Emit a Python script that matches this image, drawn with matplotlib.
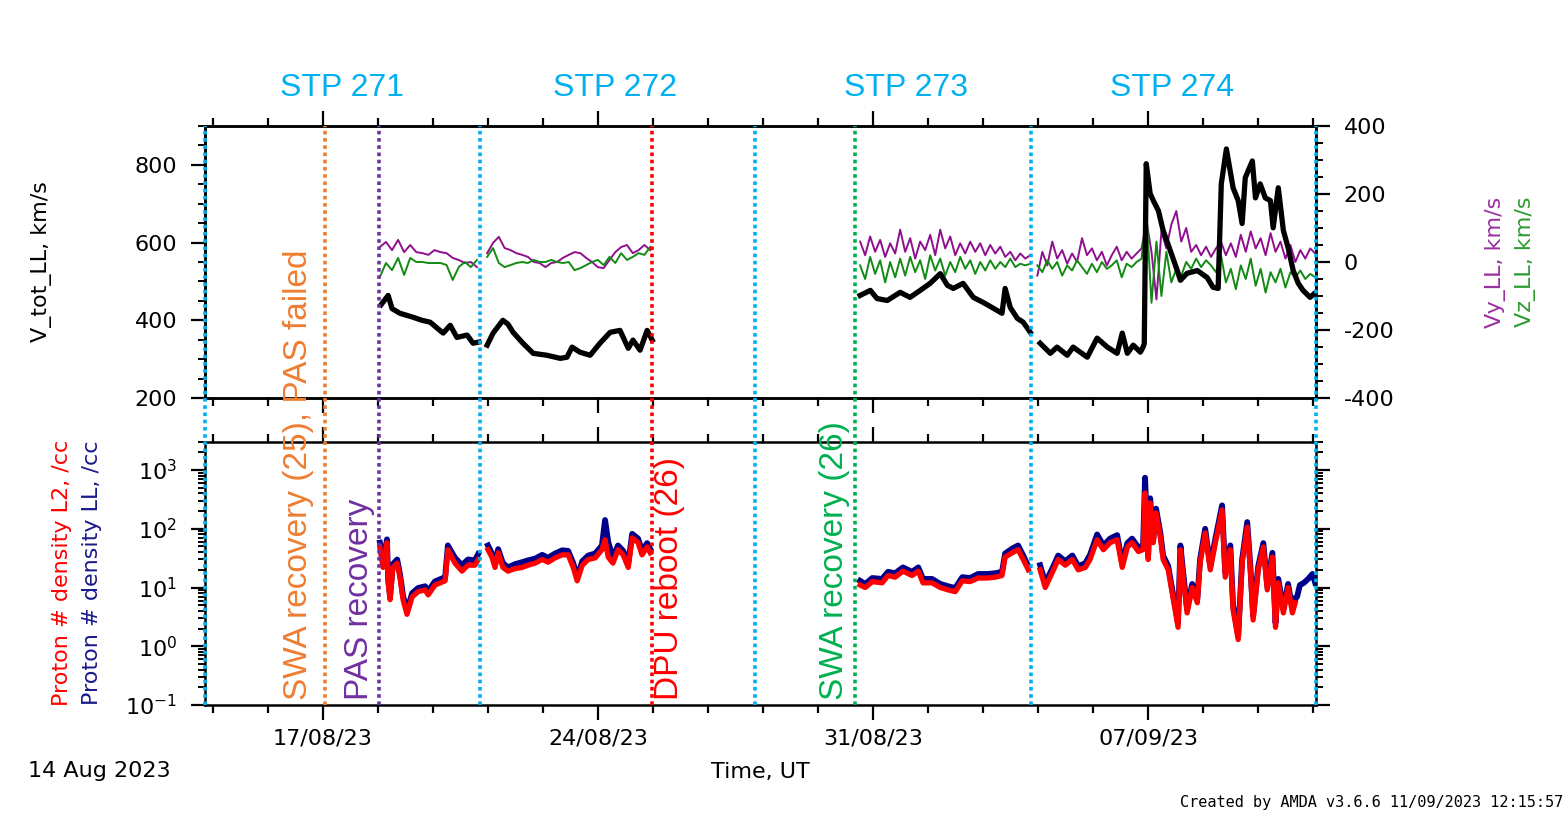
import numpy as np
import matplotlib
matplotlib.use('Agg')
import matplotlib.pyplot as plt
import matplotlib.transforms as mtransforms
from matplotlib.ticker import MultipleLocator, LogLocator, NullFormatter, FixedLocator

# time axis in days since 14 Aug 2023 00:00 UT
x_max = 28.27
date_ticks = [3, 10, 17, 24]
date_labels = ['17/08/23', '24/08/23', '31/08/23', '07/09/23']

# STP periods
stp_bounds = [0.0, 7.0, 14.0, 21.02, 28.27]
stp_names = ['STP 271', 'STP 272', 'STP 273', 'STP 274']
stp_label_x = [3.49, 10.44, 17.84, 24.61]

# events
event_x = [3.05, 4.43, 11.38, 16.54]
event_text = ['SWA recovery (25), PAS failed', 'PAS recovery', 'DPU reboot (26)', 'SWA recovery (26)']
event_colors = ['#ED7D31', '#7030A0', '#FF0000', '#00B050']
event_text_x = [2.37, 3.94, 11.83, 16.03]

# V_tot_LL (km/s), one list per data segment
vtot_t = [
    [4.48, 4.66, 4.76, 4.96, 5.29, 5.52, 5.73, 6.06, 6.24, 6.41, 6.67, 6.82, 6.97],
    [7.18, 7.33, 7.58, 7.71, 7.84, 8.09, 8.35, 8.70, 9.04, 9.21, 9.34, 9.54, 9.80,
     10.05, 10.31, 10.56, 10.77, 10.89, 11.07, 11.25, 11.38],
    [16.67, 16.93, 17.10, 17.36, 17.69, 17.94, 18.20, 18.45, 18.71, 18.89, 19.04, 19.29,
     19.55, 19.80, 20.06, 20.28, 20.36, 20.49, 20.67, 20.82, 21.00],
    [21.25, 21.51, 21.68, 21.94, 22.09, 22.45, 22.70, 22.96, 23.21, 23.34, 23.47, 23.62,
     23.80, 23.87, 23.90, 23.95, 24.05, 24.13, 24.26, 24.38, 24.56, 24.74, 24.82, 24.99,
     25.25, 25.50, 25.65, 25.78, 25.86, 25.99, 26.16, 26.29, 26.39, 26.47, 26.65, 26.73,
     26.85, 26.98, 27.11, 27.18, 27.31, 27.44, 27.56, 27.69, 27.82, 27.94, 28.12, 28.23],
]
vtot = [
    [440, 464, 430, 418, 408, 400, 395, 367, 387, 356, 362, 341, 344],
    [336, 367, 400, 390, 369, 341, 315, 310, 302, 305, 331, 318, 310,
     341, 369, 374, 328, 349, 323, 374, 349],
    [464, 477, 456, 451, 472, 459, 477, 495, 520, 490, 482, 495,
     459, 446, 431, 418, 482, 433, 405, 395, 369],
    [341, 315, 331, 310, 331, 305, 354, 331, 315, 367, 315, 336,
     318, 331, 340, 803, 726, 708, 682, 631, 580, 528, 503, 521,
     528, 510, 485, 482, 751, 841, 741, 708, 649, 767, 810, 715,
     751, 715, 708, 638, 741, 631, 587, 528, 495, 477, 459, 469],
]

# Vy_LL, Vz_LL (km/s): segment start/end times and regular readings
vyz_span = [(4.45, 6.92), (7.18, 11.33), (16.67, 21.00), (21.18, 28.25)]
vy = [
    [44, 59, 35, 65, 29, 50, 29, 26, 21, 35, 29, 26, 12, 6, -3, 0, -15],
    [26, 56, 74, 41, 35, 26, 21, 15, 0, -3, -15, -3, 0, 12, 21, 29, 26, 12, 0,
     -15, -18, 6, 29, 44, 50, 26, 35, 50, 35],
    [60, 20, 75, 30, 65, 15, 55, 25, 95, 30, 70, 10, 60, 35, 80, 20, 95, 40,
     75, 20, 55, 25, 60, 30, 55, 20, 50, 25, 45, 15, 30, 5, 25, 10, 20],
    [-40, 30, -10, 60, 10, 35, -5, 25, 0, 70, 20, 40, 5, 30, -10, 20, 45, 5, 30,
     10, 25, 40, 120, 30, -110, 90, 40, 110, 150, 60, 100, 30, 50, 20, 45, 15,
     40, 60, 20, 55, 15, 80, 30, 90, 40, 70, 20, 85, 30, 60, 10, 50, 0, 35, 10,
     40, 25],
]
vz = [
    [-44, -3, -24, 12, -38, 12, 0, 0, -3, -3, -3, -9, -53, -15, 0, -15, 6],
    [15, 41, -3, -15, -9, -3, 0, -3, 6, 0, 0, 6, 0, -3, 0, -24, -18, -9, 0,
     6, -9, 15, -3, 26, 6, 15, 26, 21, 44],
    [-10, -50, 15, -35, 5, -60, 0, -45, 10, -40, 15, -30, 5, -50, 20, -25, 10,
     -40, 0, -30, 15, -20, 5, -35, 0, -25, 5, -20, 0, -15, 10, -15, -5, -10, -5],
    [-10, -30, 5, -20, 0, -40, -10, -25, 5, -15, -35, -5, -30, 0, -20, -10, 5,
     -45, -5, -15, 0, 10, 140, -120, 60, -100, 30, -60, -20, -40, 0, -20, 10,
     -15, 5, -10, -30, 20, -60, -20, -80, -10, -50, 10, -70, -20, -90, -30, -60,
     -20, -75, -30, -45, -25, -50, -35, -45],
]

# proton density (/cc): L2 and LL on the same sample times
dens_t = [
    [4.45, 4.53, 4.63, 4.66, 4.71, 4.78, 4.89, 4.96, 5.04, 5.14, 5.27, 5.42, 5.60,
     5.68, 5.85, 6.11, 6.18, 6.36, 6.54, 6.69, 6.87, 6.95],
    [7.20, 7.30, 7.38, 7.46, 7.58, 7.71, 7.89, 8.07, 8.22, 8.40, 8.58, 8.73, 8.91,
     9.09, 9.24, 9.37, 9.47, 9.60, 9.75, 9.93, 10.10, 10.18, 10.26, 10.38, 10.51,
     10.64, 10.77, 10.87, 11.02, 11.12, 11.25, 11.33],
    [16.67, 16.80, 16.98, 17.23, 17.38, 17.56, 17.76, 17.99, 18.15, 18.27, 18.50,
     18.71, 18.91, 19.09, 19.27, 19.47, 19.67, 19.90, 20.11, 20.28, 20.36, 20.54,
     20.69, 20.82, 20.95],
    [21.25, 21.38, 21.56, 21.71, 21.89, 22.07, 22.22, 22.40, 22.52, 22.70, 22.86,
     23.03, 23.21, 23.34, 23.47, 23.59, 23.75, 23.87, 23.92, 24.00, 24.05, 24.13,
     24.20, 24.31, 24.38, 24.51, 24.64, 24.76, 24.82, 24.89, 24.99, 25.12, 25.25,
     25.32, 25.45, 25.58, 25.71, 25.88, 25.96, 26.09, 26.16, 26.29, 26.39, 26.52,
     26.60, 26.67, 26.80, 26.93, 27.03, 27.16, 27.24, 27.31, 27.44, 27.56, 27.67,
     27.74],
]
dens_l2 = [
    [49, 22, 58, 12, 6.2, 22, 26, 15, 6.2, 3.5, 6.9, 8.5, 9.1, 7.5, 11, 13, 44,
     26, 19, 24, 24, 30],
    [44, 33, 22, 39, 22, 19, 21, 22, 24, 26, 30, 27, 32, 36, 36, 22, 13, 24, 30,
     32, 44, 65, 33, 26, 44, 36, 22, 70, 58, 36, 49, 39],
    [11, 10, 12.6, 12, 16, 15, 19, 16, 19, 12, 12, 10, 9.1, 8.5, 13, 12.6, 14.5,
     14.5, 15, 16, 33, 39, 44, 30, 20],
    [20, 10, 18, 30, 24, 30, 20, 22, 30, 65, 44, 58, 65, 22, 49, 58, 41, 44,
     407, 30, 275, 58, 186, 72, 30, 20, 6.2, 2.1, 44, 15, 3.7, 10, 5.5, 26, 85,
     20, 58, 209, 15, 44, 4.2, 1.3, 26, 107, 20, 2.8, 20, 49, 9.1, 33, 2.1, 12,
     3.7, 10, 3.7, 5.5],
]
dens_ll = [
    [58, 26, 66, 14, 7.2, 25, 30, 17, 7.2, 4.0, 8, 9.8, 10.5, 8.7, 12.7, 15, 52,
     32, 24, 30, 29, 37],
    [52, 38, 26, 45, 26, 22, 25, 27, 29, 31, 36, 32, 38, 43, 42, 26, 15, 28, 35,
     38, 52, 141, 60, 32, 52, 42, 26, 82, 68, 42, 57, 45],
    [13, 11.5, 14.5, 14, 18.5, 17.5, 22, 18.5, 22, 14, 14, 11.5, 10.5, 9.8, 15,
     14.5, 17, 17, 17.5, 18.5, 38, 46, 52, 35, 23],
    [24, 12, 21, 35, 28, 35, 23, 26, 36, 80, 52, 68, 78, 26, 57, 68, 48, 52,
     740, 36, 330, 68, 220, 84, 35, 23, 7.2, 2.5, 52, 18, 4.3, 11.5, 6.4, 30, 100,
     23, 68, 250, 18, 52, 5, 1.5, 30, 130, 23, 3.3, 23, 57, 10.5, 39, 2.5, 14,
     4.3, 11.5, 4.3, 6.4],
]
# LL continues after L2 stops
dens_ll_tail_t = [27.74, 27.79, 27.86, 27.96, 28.07, 28.18, 28.25]
dens_ll_tail = [6.4, 7, 11, 12, 14, 17, 12]

W, H = 1566, 816
plt.rcParams['font.family'] = 'DejaVu Sans'
plt.rcParams['axes.unicode_minus'] = False
fig = plt.figure(figsize=(W / 100, H / 100), dpi=100)


def box(x0, y0, x1, y1):
    return [x0 / W, 1 - y1 / H, (x1 - x0) / W, (y1 - y0) / H]


ax1 = fig.add_axes(box(205, 126, 1316, 398))
ax2 = ax1.twinx()
ax3 = fig.add_axes(box(205, 442, 1316, 705), sharex=ax1)

# top panel: V_tot on left, Vy/Vz on right
for t, v in zip(vtot_t, vtot):
    ax1.plot(t, v, color='black', lw=3.8, solid_joinstyle='round')
for (t0, t1), a, b in zip(vyz_span, vy, vz):
    ax2.plot(np.linspace(t0, t1, len(a)), a, color='#8E108E', lw=1.4)
    ax2.plot(np.linspace(t0, t1, len(b)), b, color='#138A13', lw=1.4)
ax1.set_zorder(ax2.get_zorder() + 1)
ax1.patch.set_visible(False)

ax1.set_ylim(200, 900)
ax2.set_ylim(-400, 400)
ax1.set_xlim(0, x_max)
ax1.yaxis.set_major_locator(FixedLocator([200, 400, 600, 800]))
ax1.yaxis.set_minor_locator(MultipleLocator(50))
ax2.yaxis.set_major_locator(MultipleLocator(200))
ax2.yaxis.set_minor_locator(MultipleLocator(50))

# bottom panel: densities
for t, a in zip(dens_t, dens_ll):
    ax3.plot(t, a, color='#00008B', lw=4.2, solid_joinstyle='round')
ax3.plot(dens_ll_tail_t, dens_ll_tail, color='#00008B', lw=4.2)
for t, b in zip(dens_t, dens_l2):
    ax3.plot(t, b, color='#FF0000', lw=3.8, solid_joinstyle='round')
ax3.set_yscale('log')
ax3.set_ylim(0.1, 3000)
ax3.yaxis.set_major_locator(LogLocator(base=10, numticks=20))
ax3.yaxis.set_minor_locator(LogLocator(base=10, subs=np.arange(2, 10), numticks=20))
ax3.yaxis.set_minor_formatter(NullFormatter())

# time ticks
minor_days = np.arange(0.2, x_max, 1.4)
for ax in (ax1, ax3):
    ax.xaxis.set_major_locator(FixedLocator(date_ticks))
    ax.xaxis.set_minor_locator(FixedLocator(minor_days))
    ax.tick_params(axis='x', which='both', top=True, bottom=True, direction='out')
    ax.tick_params(axis='x', which='major', length=11, width=1.6)
    ax.tick_params(axis='x', which='minor', length=6, width=1.6)
ax1.tick_params(axis='x', labelbottom=False)
ax3.set_xticklabels(date_labels)
ax3.tick_params(axis='x', which='major', labelsize=16, pad=6)

ax1.tick_params(axis='y', which='both', left=True, right=False, direction='out', labelsize=16, pad=10)
ax2.tick_params(axis='y', which='both', left=False, right=True, direction='out', labelsize=16, pad=10)
ax3.tick_params(axis='y', which='both', left=True, right=True, direction='out', labelsize=16, pad=10)
for ax in (ax1, ax2, ax3):
    ax.tick_params(axis='y', which='major', length=10, width=1.6)
    ax.tick_params(axis='y', which='minor', length=5, width=1.4)
    for sp in ax.spines.values():
        sp.set_linewidth(1.8)

# vertical markers spanning both panels
span_lo = (398 - 705) / (398 - 126)
for xb in stp_bounds:
    ax1.axvline(xb, ymin=span_lo, ymax=1, color='#00B0F0', lw=2.6,
                linestyle=(0, (1, 1)), clip_on=False, zorder=10)
for xe, c in zip(event_x, event_colors):
    ax1.axvline(xe, ymin=span_lo, ymax=1, color=c, lw=2.6,
                linestyle=(0, (1, 1)), clip_on=False, zorder=10)

trans = mtransforms.blended_transform_factory(ax1.transData, fig.transFigure)
for xs, name in zip(stp_label_x, stp_names):
    fig.text(xs, 1 - 88 / H, name, transform=trans, ha='center', va='center',
             color='#00B0F0', fontsize=23, family='Liberation Sans')
for xt, txt, c in zip(event_text_x, event_text, event_colors):
    fig.text(xt, 1 - 700 / H, txt, transform=trans, rotation=90, ha='center',
             va='bottom', color=c, fontsize=24, family='Liberation Sans')

# axis titles
fig.text(42 / W, 1 - 262 / H, 'V_tot_LL, km/s', rotation=90, ha='center', va='center', fontsize=16)
fig.text(62 / W, 1 - 573 / H, 'Proton # density L2, /cc', rotation=90, ha='center',
         va='center', fontsize=16, color='#FF0000')
fig.text(92 / W, 1 - 573 / H, 'Proton # density LL, /cc', rotation=90, ha='center',
         va='center', fontsize=16, color='#1A1A8C')
fig.text(1495 / W, 1 - 262 / H, 'Vy_LL, km/s', rotation=90, ha='center', va='center',
         fontsize=16, color='#9B2FA0')
fig.text(1525 / W, 1 - 262 / H, 'Vz_LL, km/s', rotation=90, ha='center', va='center',
         fontsize=16, color='#2E9B2E')

fig.text(28 / W, 1 - 771 / H, '14 Aug 2023', ha='left', va='center', fontsize=16)
fig.text(760 / W, 1 - 772 / H, 'Time, UT', ha='center', va='center', fontsize=16)
fig.text(1563 / W, 1 - 803 / H, 'Created by AMDA v3.6.6 11/09/2023 12:15:57',
         ha='right', va='center', fontsize=11, family='DejaVu Sans Mono')

fig.savefig('out.png', dpi=100, facecolor='white')
